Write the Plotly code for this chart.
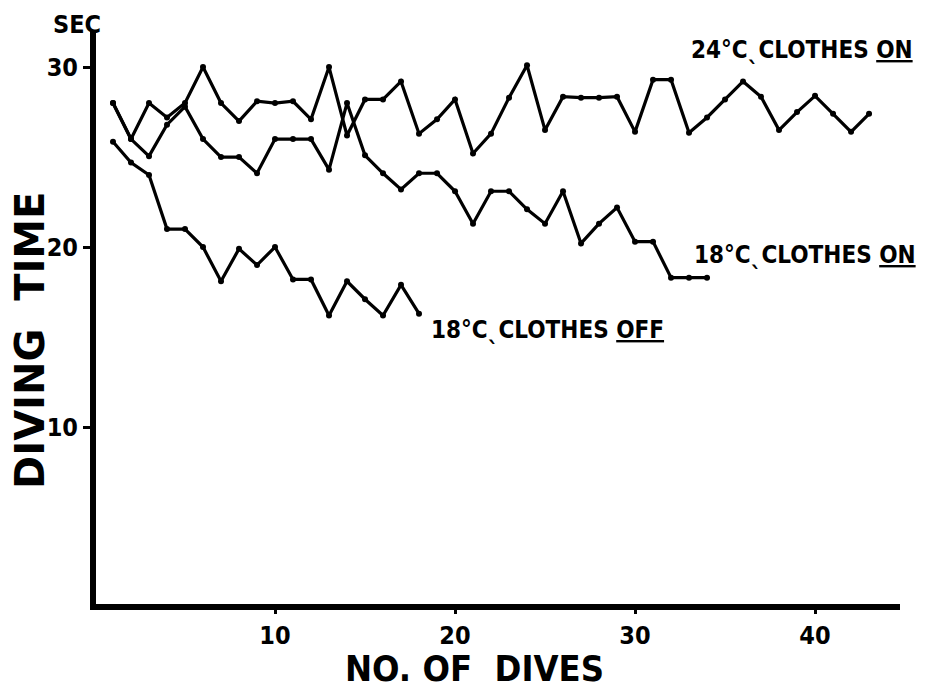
import plotly.graph_objects as go

# Diving time (sec) per dive number
dives_24_on = list(range(1, 44))
time_24_on = [28, 26, 28, 27.2, 28, 30, 28, 27, 28.1, 28, 28.1, 27.1, 30, 26.2, 28.2,
              28.2, 29.2, 26.3, 27.1, 28.2, 25.2, 26.3, 28.3, 30.1, 26.5, 28.35, 28.3,
              28.3, 28.35, 26.4, 29.3, 29.3, 26.35, 27.2, 28.2, 29.2, 28.35, 26.5, 27.5,
              28.4, 27.4, 26.4, 27.4]

dives_18_on = list(range(1, 35))
time_18_on = [28, 26, 25.05, 26.8, 27.8, 26.0, 25.0, 25.0, 24.1, 26.0, 26.0, 26.0, 24.3,
              28.0, 25.1, 24.1, 23.2, 24.1, 24.1, 23.1, 21.3, 23.1, 23.1, 22.1, 21.3,
              23.1, 20.2, 21.3, 22.2, 20.3, 20.3, 18.3, 18.3, 18.3]

dives_18_off = list(range(1, 19))
time_18_off = [25.85, 24.7, 24.0, 21.0, 21.0, 20.0, 18.1, 19.9, 19.0, 20.0, 18.2, 18.2,
               16.2, 18.1, 17.1, 16.2, 17.9, 16.3]

labels = ["24°CˎCLOTHES <u>ON</u>", "18°CˎCLOTHES <u>ON</u>", "18°CˎCLOTHES <u>OFF</u>"]
label_x = [33.0, 33.15, 18.55]
label_y = [30.94, 19.56, 15.39]

x_ticks = [10, 20, 30, 40]
y_ticks = [10, 20, 30]

NARROW = "DejaVu Sans Condensed, Liberation Sans Narrow, Arial Narrow, sans-serif"
WIDE = "DejaVu Sans, Arial, sans-serif"

fig = go.Figure()
for xs, ys in [(dives_24_on, time_24_on), (dives_18_on, time_18_on), (dives_18_off, time_18_off)]:
    fig.add_trace(go.Scatter(
        x=xs, y=ys, mode="lines+markers",
        line=dict(color="black", width=3.2),
        marker=dict(color="black", size=6),
        showlegend=False,
    ))

for t, lx, ly in zip(labels, label_x, label_y):
    fig.add_annotation(x=lx, y=ly, text="<b>" + t + "</b>", showarrow=False,
                       xanchor="left", yanchor="middle",
                       font=dict(family=NARROW, size=24, color="black"))

fig.add_annotation(xref="paper", yref="paper", x=-0.0236, y=1.0383,
                   xanchor="center", yanchor="top",
                   text="<b>SEC</b>", showarrow=False,
                   font=dict(family=NARROW, size=25, color="black"))
fig.add_annotation(xref="paper", yref="paper", x=-0.0821, y=0.46, textangle=-90,
                   xanchor="center", yanchor="middle",
                   text="<b>DIVING  TIME</b>", showarrow=False,
                   font=dict(family=WIDE, size=40, color="black"))
fig.add_annotation(xref="paper", yref="paper", x=0.471, y=-0.1115,
                   xanchor="center", yanchor="middle",
                   text="<b>NO. OF  DIVES</b>", showarrow=False,
                   font=dict(family=NARROW, size=36, color="black"))

fig.update_layout(
    width=934, height=681,
    margin=dict(l=88, r=42, t=22, b=85),
    plot_bgcolor="white", paper_bgcolor="white",
    font=dict(family=NARROW, color="black"),
    xaxis=dict(
        range=[0.056, 44.72], tickvals=x_ticks, ticktext=["<b>%d</b>" % v for v in x_ticks],
        showgrid=False, zeroline=False, showline=True, linewidth=6, linecolor="black",
        ticks="outside", ticklen=4, tickwidth=2.5, tickcolor="black", automargin=False,
        tickfont=dict(family=NARROW, size=25, color="black"),
    ),
    yaxis=dict(
        range=[0.167, 32.06], tickvals=y_ticks, ticktext=["<b>%d</b>" % v for v in y_ticks],
        showgrid=False, zeroline=False, showline=True, linewidth=6, linecolor="black",
        ticks="outside", ticklen=7, tickwidth=2.5, tickcolor="black", automargin=False,
        tickfont=dict(family=NARROW, size=25, color="black"),
    ),
)

fig.write_html("out.html")
